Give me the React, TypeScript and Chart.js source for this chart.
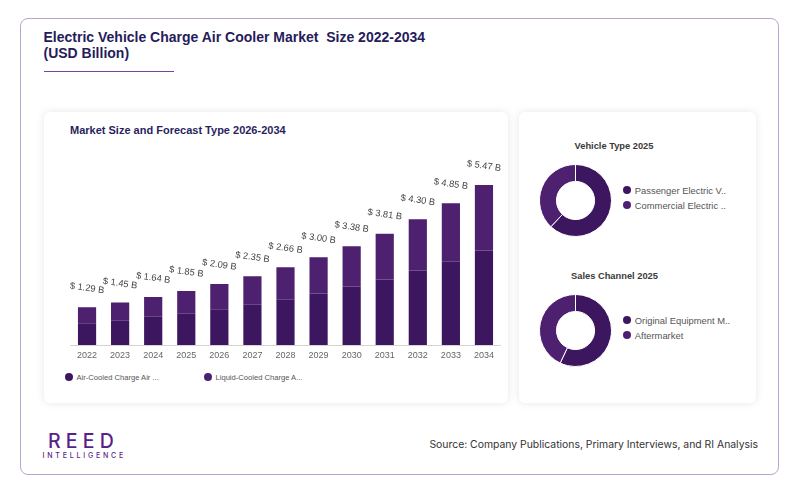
import React, { useEffect, useRef } from "react";
import { Chart, registerables } from "chart.js";

Chart.register(...registerables);

// ---------- data ----------
const years = ["2022", "2023", "2024", "2025", "2026", "2027", "2028", "2029", "2030", "2031", "2032", "2033", "2034"];
const airCooled = [0.74, 0.83, 0.97, 1.07, 1.22, 1.38, 1.55, 1.76, 2.0, 2.24, 2.55, 2.85, 3.23];
const liquidCooled = [0.55, 0.62, 0.67, 0.78, 0.87, 0.97, 1.11, 1.24, 1.38, 1.57, 1.75, 2.0, 2.24];
const seriesNames = ["Air-Cooled Charge Air Cooler", "Liquid-Cooled Charge Air Cooler"];
const seriesColors = ["#3d1660", "#4e2070"];

const vehicleLabels = ["Passenger Electric Vehicles", "Commercial Electric Vehicles"];
const vehicleShares = [62, 38];
const channelLabels = ["Original Equipment Manufacturers", "Aftermarket"];
const channelShares = [57, 43];
const donutColors = ["#3d1660", "#4e2070"];

const FONT = "'Liberation Sans', Arial, Helvetica, sans-serif";
const INTER = "Inter, 'Noto Sans', sans-serif";

const truncate = (s: string, n: number, suffix: string) => (s.length > n ? s.slice(0, n) + suffix : s);

// ---------- plugins ----------
const totalLabels = {
  id: "totalLabels",
  afterDatasetsDraw(chart: any) {
    const ctx = chart.ctx;
    const last = chart.data.datasets.length - 1;
    const meta = chart.getDatasetMeta(last);
    ctx.save();
    ctx.font = `9.3px ${FONT}`;
    ctx.fillStyle = "#444444";
    ctx.textAlign = "center";
    ctx.textBaseline = "middle";
    meta.data.forEach((el: any, i: number) => {
      const total = chart.data.datasets.reduce((s: number, d: any) => s + (d.data[i] as number), 0);
      ctx.save();
      ctx.translate(el.x, el.y - 19);
      ctx.rotate((8 * Math.PI) / 180);
      ctx.fillText(`$ ${total.toFixed(2)} B`, 0, 0);
      ctx.restore();
    });
    ctx.restore();
  },
};

// ---------- components ----------
function BarChart() {
  const ref = useRef<HTMLCanvasElement | null>(null);
  useEffect(() => {
    if (!ref.current) return;
    const chart = new Chart(ref.current, {
      type: "bar",
      data: {
        labels: years,
        datasets: [
          { label: seriesNames[0], data: airCooled, backgroundColor: seriesColors[0], barPercentage: 0.55, categoryPercentage: 1 },
          { label: seriesNames[1], data: liquidCooled, backgroundColor: seriesColors[1], barPercentage: 0.55, categoryPercentage: 1 },
        ],
      },
      options: {
        animation: false,
        responsive: false,
        layout: { padding: { left: 10.5, right: 5.5, top: 5, bottom: 0 } },
        plugins: { legend: { display: false }, tooltip: { enabled: false } },
        scales: {
          x: {
            stacked: true,
            grid: { display: false, drawTicks: false },
            border: { display: true, color: "#d4d4d4" },
            ticks: { color: "#666666", font: { family: FONT, size: 9 }, padding: 5 },
            afterFit: (axis: any) => {
              axis.height = 17;
            },
          },
          y: { stacked: true, display: false, min: 0, max: 6.5 },
        },
      },
      plugins: [totalLabels],
    });
    return () => chart.destroy();
  }, []);
  return <canvas ref={ref} width={446} height={212} style={{ position: "absolute", left: 60, top: 150 }} />;
}

function Donut({ values, labels, top }: { values: number[]; labels: string[]; top: number }) {
  const ref = useRef<HTMLCanvasElement | null>(null);
  useEffect(() => {
    if (!ref.current) return;
    const chart = new Chart(ref.current, {
      type: "doughnut",
      data: {
        labels,
        datasets: [{ data: values, backgroundColor: donutColors, borderColor: "#ffffff", borderWidth: 1 }],
      },
      options: {
        animation: false,
        responsive: false,
        cutout: "53%",
        layout: { padding: 0 },
        plugins: { legend: { display: false }, tooltip: { enabled: false } },
      },
    });
    return () => chart.destroy();
  }, []);
  return <canvas ref={ref} width={73} height={73} style={{ position: "absolute", left: 539, top }} />;
}

function LegendItem({ x, y, color, text, size, dot, textColor }: any) {
  return (
    <div style={{ position: "absolute", left: x - dot / 2, top: y - 8, height: 16, display: "flex", alignItems: "center", whiteSpace: "nowrap" }}>
      <span style={{ width: dot, height: dot, borderRadius: "50%", background: color, display: "inline-block" }} />
      <span style={{ marginLeft: 3.5, fontSize: size, color: textColor, fontFamily: FONT }}>{text}</span>
    </div>
  );
}

const barLegendX = [69, 208];

export default function App() {
  return (
    <div style={{ position: "absolute", left: 0, top: 0, width: 800, height: 493, background: "#ffffff", fontFamily: FONT, overflow: "hidden" }}>
      {/* outer frame */}
      <div style={{ position: "absolute", left: 20, top: 18, width: 759, height: 457, boxSizing: "border-box", border: "1px solid #b9a3d2", borderRadius: 8 }} />

      {/* title */}
      <div style={{ position: "absolute", left: 43.5, top: 29, fontSize: 14, fontWeight: 700, lineHeight: "16px", color: "#261b5b", whiteSpace: "pre" }}>
        {"Electric Vehicle Charge Air Cooler Market  Size 2022-2034\n(USD Billion)"}
      </div>
      <div style={{ position: "absolute", left: 43.5, top: 71, width: 130, height: 1, background: "#6d4aa0" }} />

      {/* left card */}
      <div style={{ position: "absolute", left: 44, top: 112, width: 464, height: 291, background: "#fff", borderRadius: 6, boxShadow: "0 0 8px rgba(0,0,0,0.10)" }} />
      <div style={{ position: "absolute", left: 70, top: 123, fontSize: 11, fontWeight: 700, lineHeight: "14px", color: "#2a1f5e", whiteSpace: "nowrap" }}>
        Market Size and Forecast Type 2026-2034
      </div>
      <BarChart />
      {seriesNames.map((n, i) => (
        <LegendItem key={n} x={barLegendX[i]} y={377} color={seriesColors[i]} text={truncate(n, 22, "...")} size={7.6} dot={8} textColor="#555555" />
      ))}

      {/* right card */}
      <div style={{ position: "absolute", left: 519, top: 112, width: 237, height: 291, background: "#fff", borderRadius: 6, boxShadow: "0 0 8px rgba(0,0,0,0.10)" }} />
      <div style={{ position: "absolute", left: 519, width: 190, top: 140, textAlign: "center", fontSize: 9.3, fontWeight: 700, lineHeight: "12px", color: "#3a3a3a" }}>
        Vehicle Type 2025
      </div>
      <Donut values={vehicleShares} labels={vehicleLabels} top={164} />
      {vehicleLabels.map((n, i) => (
        <LegendItem key={n} x={627.3} y={190 + i * 15} color={donutColors[i]} text={truncate(n, 20, "..")} size={9.4} dot={8} textColor="#555555" />
      ))}
      <div style={{ position: "absolute", left: 519, width: 191, top: 270, textAlign: "center", fontSize: 9.3, fontWeight: 700, lineHeight: "12px", color: "#3a3a3a" }}>
        Sales Channel 2025
      </div>
      <Donut values={channelShares} labels={channelLabels} top={294} />
      {channelLabels.map((n, i) => (
        <LegendItem key={n} x={627.3} y={320 + i * 15} color={donutColors[i]} text={truncate(n, 20, "..")} size={9.4} dot={8} textColor="#555555" />
      ))}

      {/* footer */}
      <div style={{ position: "absolute", left: 48, top: 430, fontFamily: INTER, fontSize: 19.5, fontWeight: 500, letterSpacing: 5.2, lineHeight: "22px", color: "#5a1f88" }}>
        REED
      </div>
      <div style={{ position: "absolute", left: 42.5, top: 451, fontFamily: INTER, fontSize: 7, fontWeight: 500, letterSpacing: 2.8, lineHeight: "9px", color: "#5a1f88" }}>
        INTELLIGENCE
      </div>
      <div style={{ position: "absolute", right: 42, top: 437.5, fontFamily: INTER, fontSize: 10.4, lineHeight: "14px", color: "#333333", whiteSpace: "nowrap" }}>
        Source: Company Publications, Primary Interviews, and RI Analysis
      </div>
    </div>
  );
}
